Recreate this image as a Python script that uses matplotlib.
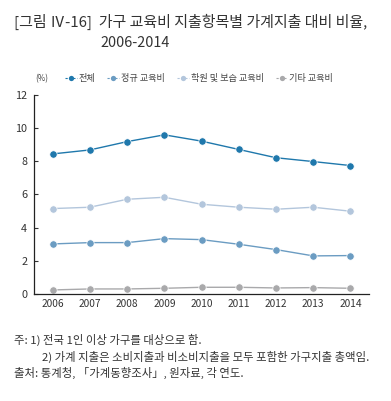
import matplotlib
matplotlib.use("Agg")
import matplotlib.pyplot as plt

plt.rcParams["font.family"] = ["Noto Sans CJK KR", "DejaVu Sans"]

years = [2006, 2007, 2008, 2009, 2010, 2011, 2012, 2013, 2014]
total = [8.43, 8.67, 9.17, 9.58, 9.2, 8.7, 8.2, 7.97, 7.73]
regular = [3.01, 3.09, 3.09, 3.33, 3.27, 2.99, 2.67, 2.29, 2.31]
private = [5.14, 5.22, 5.7, 5.82, 5.4, 5.22, 5.1, 5.22, 4.98]
other = [0.24, 0.3, 0.3, 0.34, 0.4, 0.4, 0.36, 0.38, 0.34]

series = [
    ("전체", total, "#1f78ac"),
    ("정규 교육비", regular, "#6b9cc2"),
    ("학원 및 보습 교육비", private, "#b3c6dc"),
    ("기타 교육비", other, "#a9a9ab"),
]

fig = plt.figure(figsize=(3.91, 4.01), dpi=100)
ax = fig.add_axes([0.087, 0.267, 0.857, 0.497])

for label, vals, color in series:
    ax.plot(years, vals, color=color, lw=1.0, marker="o", ms=5.3,
            markeredgecolor="white", markeredgewidth=0.5, label=label)

ax.set_xlim(2005.5, 2014.5)
ax.set_ylim(0, 12)
ax.set_xticks(years)
ax.set_yticks(range(0, 13, 2))
ax.tick_params(axis="x", length=0, labelsize=7.3, pad=4, colors="#333333")
ax.tick_params(axis="y", direction="in", length=3, labelsize=7.8, pad=5, colors="#333333")
for s in ["top", "right"]:
    ax.spines[s].set_visible(False)
for s in ["left", "bottom"]:
    ax.spines[s].set_color("#222222")
    ax.spines[s].set_linewidth(0.9)

fig.text(0.09, 0.805, "(%)", fontsize=5.8, color="#444444", va="center", ha="left")
leg_handles = []
for label, vals, color in series:
    (lh,) = ax.plot([], [], color=color, lw=0.8, ls=(0, (2, 1.5)), marker="o", ms=3.8,
                    markeredgewidth=0)
    leg_handles.append(lh)
fig.legend(leg_handles, [s[0] for s in series], loc="center left",
           bbox_to_anchor=(0.145, 0.805), ncol=4, frameon=False, fontsize=6.6,
           handlelength=1.3, handletextpad=0.2, columnspacing=1.3, labelcolor="#444444")

fig.text(0.035, 0.945, "[그림 Ⅳ-16]  가구 교육비 지출항목별 가계지출 대비 비율,",
         fontsize=10.8, color="#333333", va="center", ha="left")
fig.text(0.256, 0.893, "2006-2014", fontsize=10.4, color="#333333", va="center", ha="left")

notes = [
    (0.035, 0.153, "주: 1) 전국 1인 이상 가구를 대상으로 함."),
    (0.107, 0.111, "2) 가계 지출은 소비지출과 비소비지출을 모두 포함한 가구지출 총액임."),
    (0.035, 0.069, "출처: 통계청, 「가계동향조사」, 원자료, 각 연도."),
]
for x, y, t in notes:
    fig.text(x, y, t, fontsize=8.2, color="#333333", va="center", ha="left")

fig.savefig("out.png", dpi=100)
